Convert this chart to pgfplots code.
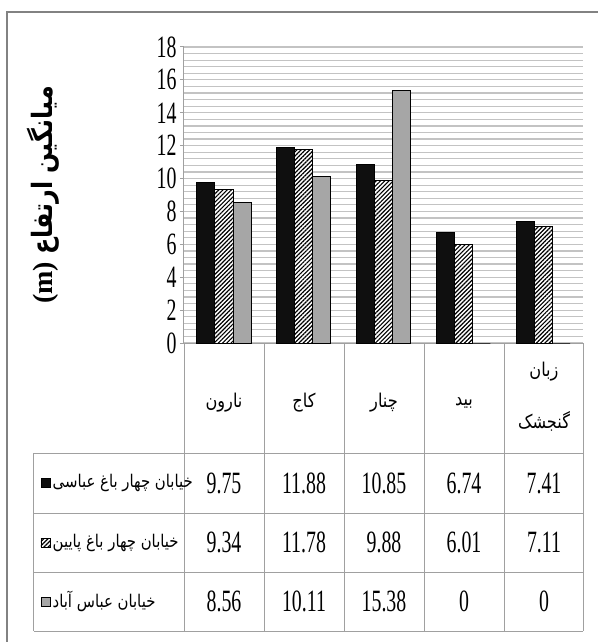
\documentclass[border=0pt]{standalone}
\usepackage{fontspec}
\usepackage{pgfplots}
\pgfplotsset{compat=1.18}
\usetikzlibrary{patterns.meta,calc}
\setmainfont{Liberation Serif}
\newfontfamily\numfont[FakeStretch=0.64]{Liberation Serif}
\newfontfamily\fa[Script=Arabic,FakeStretch=0.85]{DejaVu Sans}
\TeXXeTstate=1
\definecolor{barblack}{RGB}{15,15,15}
\definecolor{bargray}{RGB}{166,166,166}
\definecolor{gridc}{RGB}{195,195,195}
\definecolor{tablec}{RGB}{160,160,160}
\definecolor{framec}{RGB}{130,130,130}
\tikzset{hatch/.style={fill=white,postaction={pattern={Lines[angle=45,distance=3pt,line width=1.2pt]},pattern color=black}}}
\begin{document}
\begin{tikzpicture}
\begin{axis}[name=ax, scale only axis, width=399pt, height=296pt,
 xmin=-0.5, xmax=4.5, ymin=0, ymax=18,
 ytick={0,2,...,18}, minor y tick num=4, xtick=\empty,
 ymajorgrids, yminorgrids,
 major grid style={gridc, line width=1.2pt},
 minor grid style={gridc, line width=1.2pt},
 axis lines*=left, axis line style={tablec, line width=1pt},
 tick align=outside, major tick length=4pt, minor tick length=0pt,
 tick style={tablec, line width=1pt},
 ybar=0pt, bar width=18pt,
 /pgf/number format/assume math mode=true,
 yticklabel style={font=\numfont\fontsize{31}{31}\selectfont},
 clip=false]
\addplot[draw=black, line width=0.8pt, fill=barblack] coordinates {(0,9.75) (1,11.88) (2,10.85) (3,6.74) (4,7.41)};
\addplot[draw=black, line width=0.8pt, hatch] coordinates {(0,9.34) (1,11.78) (2,9.88) (3,6.01) (4,7.11)};
\addplot[draw=black, line width=0.8pt, fill=bargray] coordinates {(0,8.56) (1,10.11) (2,15.38) (3,0) (4,0)};
\end{axis}
\coordinate (O) at ($(ax.south west)+(-184pt,-299pt)$);
\begin{scope}[shift={(O)}, x=1pt, y=1pt]
% frame
\draw[framec, line width=2pt] (7,0) -- (7,630) -- (598,630);
% table lines
\begin{scope}[tablec, line width=1pt]
\foreach \yy in {189,129,70,11} {\draw (34,\yy) -- (583,\yy);}
\foreach \xx in {184,264,344,424,504,583} {\draw (\xx,299) -- (\xx,11);}
\draw (34,189) -- (34,11);
\end{scope}
% y label
\node[rotate=90] at (43,447) {\bfseries\fontsize{28}{28}\selectfont (m)\ {\fa\beginR میانگین ارتفاع\endR}};
% category labels
\begin{scope}[every node/.style={font=\fa\fontsize{19}{22}\selectfont}]
\node at (224,239) {\beginR نارون\endR};
\node at (304,239) {\beginR کاج\endR};
\node at (384,239) {\beginR چنار\endR};
\node at (464,239) {\beginR بید\endR};
\node at (544,270) {\beginR زبان\endR};
\node at (544,221) {\beginR گنجشک\endR};
\end{scope}
% legend keys
\draw[black, fill=barblack] (41,154.5) rectangle (50,163.5);
\draw[black, hatch, line width=0.5pt] (41,95) rectangle (50,104);
\draw[black, fill=bargray] (41,36) rectangle (50,45);
\begin{scope}[every node/.style={anchor=west, font=\fa\fontsize{17.5}{20}\selectfont, inner sep=1.5pt}]
\node at (51,159) {\beginR خیابان چهار باغ عباسی\endR};
\node at (51,99.5) {\beginR خیابان چهار باغ پایین\endR};
\node at (51,40.5) {\beginR خیابان عباس آباد\endR};
\end{scope}
% numbers
\begin{scope}[every node/.style={font=\numfont\fontsize{31}{31}\selectfont}]
\node at (224,159) {9.75};  \node at (304,159) {11.88}; \node at (384,159) {10.85}; \node at (464,159) {6.74}; \node at (544,159) {7.41};
\node at (224,99.5) {9.34}; \node at (304,99.5) {11.78}; \node at (384,99.5) {9.88}; \node at (464,99.5) {6.01}; \node at (544,99.5) {7.11};
\node at (224,40.5) {8.56}; \node at (304,40.5) {10.11}; \node at (384,40.5) {15.38}; \node at (464,40.5) {0}; \node at (544,40.5) {0};
\end{scope}
\pgfresetboundingbox
\useasboundingbox (0,0) rectangle (598,642);
\end{scope}
\end{tikzpicture}
\end{document}
